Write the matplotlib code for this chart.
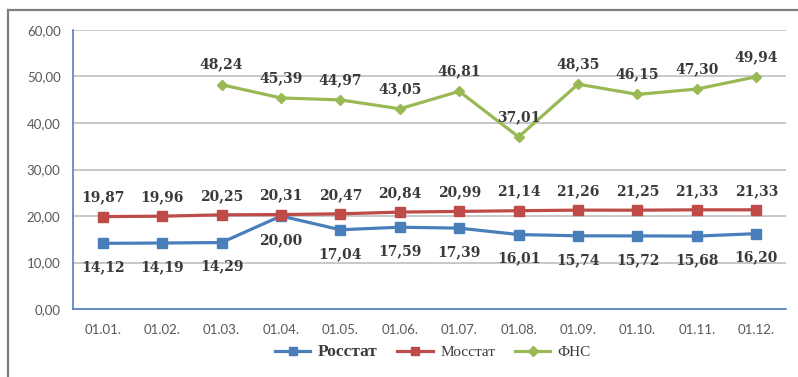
import numpy as np
import matplotlib
matplotlib.use("Agg")
import matplotlib.pyplot as plt
from matplotlib.lines import Line2D

# Data
months = ["01.01.", "01.02.", "01.03.", "01.04.", "01.05.", "01.06.",
          "01.07.", "01.08.", "01.09.", "01.10.", "01.11.", "01.12."]
rosstat = [14.12, 14.19, 14.29, 20.00, 17.04, 17.59, 17.39, 16.01, 15.74, 15.72, 15.68, 16.20]
mosstat = [19.87, 19.96, 20.25, 20.31, 20.47, 20.84, 20.99, 21.14, 21.26, 21.25, 21.33, 21.33]
fns = [np.nan, np.nan, 48.24, 45.39, 44.97, 43.05, 46.81, 37.01, 48.35, 46.15, 47.30, 49.94]
series_names = ["Росстат", "Мосстат", "ФНС"]
y_ticks = [0, 10, 20, 30, 40, 50, 60]

def fmt(v):
    return f"{v:.2f}".replace(".", ",")

fig = plt.figure(figsize=(7.98, 3.77), dpi=100)
ax = fig.add_axes([73 / 798, 1 - 309 / 377, (786 - 73) / 798, (309 - 30) / 377])

x = np.arange(len(months))
styles = [
    dict(color="#4A7EBB", marker="s", markersize=6.5),
    dict(color="#BE4B48", marker="s", markersize=6.5),
    dict(color="#98B954", marker="D", markersize=5.5),
]
lines = []
for vals, name, st in zip([rosstat, mosstat, fns], series_names, styles):
    ln, = ax.plot(x, vals, label=name, color=st["color"], lw=2.3,
                  marker=st["marker"], markersize=st["markersize"],
                  markerfacecolor=st["color"], markeredgecolor=st["color"])
    lines.append(ln)

label_font = dict(family="DejaVu Serif", weight="bold", size=10, color="#3A3A3A")
for vals, dy in [(rosstat, -24), (mosstat, 19), (fns, 20)]:
    for xi, v in zip(x, vals):
        if np.isnan(v):
            continue
        ax.annotate(fmt(v), (xi, v), xytext=(0, dy), textcoords="offset pixels",
                    ha="center", va="center", **label_font)

ax.set_xlim(-0.5, len(months) - 0.5)
ax.set_ylim(0, 60)
ax.set_yticks(y_ticks)
ax.set_yticklabels([fmt(t) for t in y_ticks])
ax.set_xticks(x)
ax.set_xticklabels(months)
ax.tick_params(axis="both", length=0, labelcolor="#595959", labelsize=9.5)
ax.tick_params(axis="y", pad=9)
ax.tick_params(axis="x", pad=11)
for lab in ax.get_xticklabels() + ax.get_yticklabels():
    lab.set_family("Lato")

ax.grid(axis="y", color="#BFBFBF", lw=1.2)
ax.set_axisbelow(True)
for side in ["top", "right"]:
    ax.spines[side].set_visible(False)
for side in ["left", "bottom"]:
    ax.spines[side].set_color("#4F81BD")
    ax.spines[side].set_linewidth(1.2)

leg = fig.legend(handles=lines, loc="center", bbox_to_anchor=(433 / 798, 1 - 352 / 377),
                 ncol=3, frameon=False, handlelength=2.3, handletextpad=0.5,
                 columnspacing=1.3, prop=dict(family="Liberation Serif", size=11))
for i, t in enumerate(leg.get_texts()):
    t.set_color("#3A3A3A")
    if i == 0:
        t.set_weight("bold")
        t.set_fontsize(12.5)
for h in leg.legend_handles:
    h.set_markersize(5.5)

# Outer frame: top and left edges
fig.add_artist(Line2D([8 / 798, 1], [1 - 10 / 377, 1 - 10 / 377], color="#7F7F7F", lw=1.6))
fig.add_artist(Line2D([8 / 798, 8 / 798], [0, 1 - 10 / 377], color="#7F7F7F", lw=1.6))

fig.savefig("out.png", dpi=100)
